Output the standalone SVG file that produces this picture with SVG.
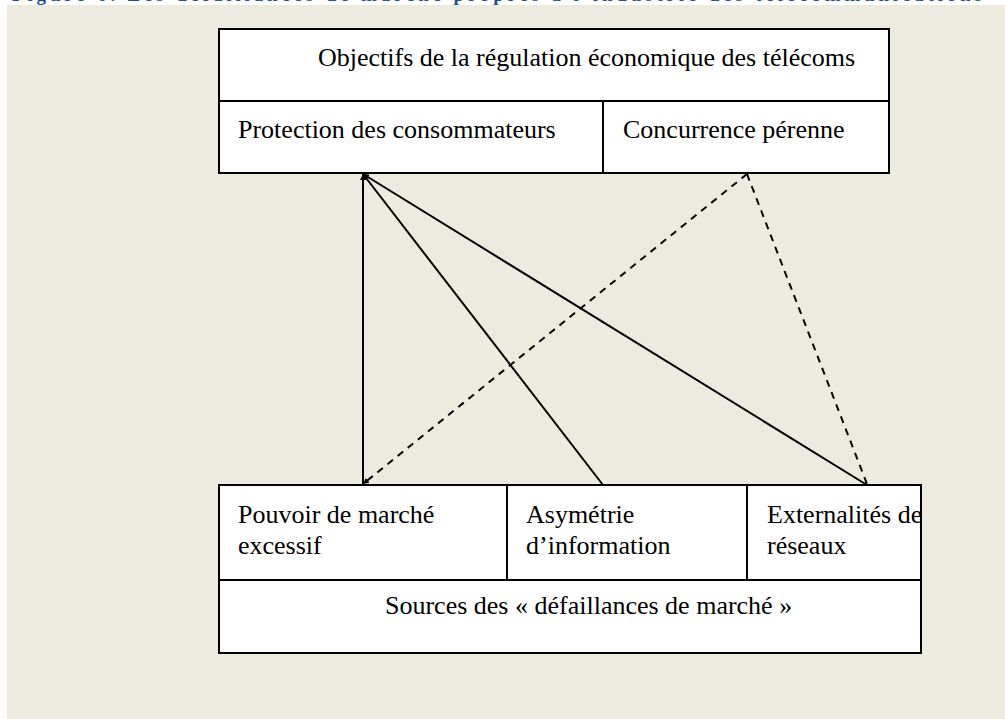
<svg xmlns="http://www.w3.org/2000/svg" width="1005" height="719" viewBox="0 0 1005 719">
<defs>
<style>
.box{fill:#fff;stroke:#000;stroke-width:2}
.div{stroke:#000;stroke-width:2;fill:none}
.t{font-family:"Liberation Serif","Times New Roman",serif;font-size:26px;fill:#000}
.ln{stroke:#000;stroke-width:2;fill:none}
.dl{stroke:#000;stroke-width:2;fill:none;stroke-dasharray:7,6}
.title{font-family:"Liberation Serif","Times New Roman",serif;font-size:19px;font-weight:bold;fill:#1F4E8C}
</style>
<marker id="ah" viewBox="0 0 6 6" refX="6" refY="3" markerWidth="3" markerHeight="3" orient="auto"><path d="M0,0 L6,3 L0,6 z" fill="#000"/></marker>
</defs>
<rect x="0" y="0" width="1005" height="719" fill="#fff"/>
<text class="title" x="12" y="1" textLength="970" lengthAdjust="spacing">Figure 6. Les défaillances de marché propres à l’industrie des télécommunications</text>
<rect x="7" y="5" width="998" height="714" fill="#EDEBE0"/>
<g id="top-box">
<rect class="box" x="219" y="29" width="670" height="144"/>
<line class="div" x1="219" y1="101" x2="889" y2="101"/>
<text class="t" x="318" y="66">Objectifs de la régulation économique des télécoms</text>
</g>
<g id="protection">
<line class="div" x1="603" y1="101" x2="603" y2="173"/>
<text class="t" x="238" y="138">Protection des consommateurs</text>
</g>
<g id="concurrence">
<text class="t" x="623" y="138">Concurrence pérenne</text>
</g>
<g id="bottom-box">
<rect class="box" x="219" y="485" width="702" height="168"/>
<line class="div" x1="219" y1="580" x2="921" y2="580"/>
<text class="t" x="385" y="614">Sources des « défaillances de marché »</text>
</g>
<g id="pouvoir">
<text class="t" x="238" y="523">Pouvoir de marché</text>
<text class="t" x="238" y="554">excessif</text>
</g>
<g id="asymetrie">
<line class="div" x1="507" y1="485" x2="507" y2="580"/>
<text class="t" x="526" y="523">Asymétrie</text>
<text class="t" x="526" y="554">d’information</text>
</g>
<g id="externalites">
<line class="div" x1="747" y1="485" x2="747" y2="580"/>
<text class="t" x="767" y="523">Externalités de</text>
<text class="t" x="767" y="554">réseaux</text>
</g>
<g id="connectors">
<line class="ln" x1="363" y1="485" x2="363" y2="174" marker-end="url(#ah)"/>
<line class="ln" x1="603" y1="485" x2="363" y2="174" marker-end="url(#ah)"/>
<line class="ln" x1="867" y1="485" x2="363" y2="174" marker-end="url(#ah)"/>
<line class="dl" x1="747" y1="174" x2="363" y2="484" marker-end="url(#ah)"/>
<line class="dl" x1="747" y1="174" x2="867" y2="484"/>
</g>
</svg>
